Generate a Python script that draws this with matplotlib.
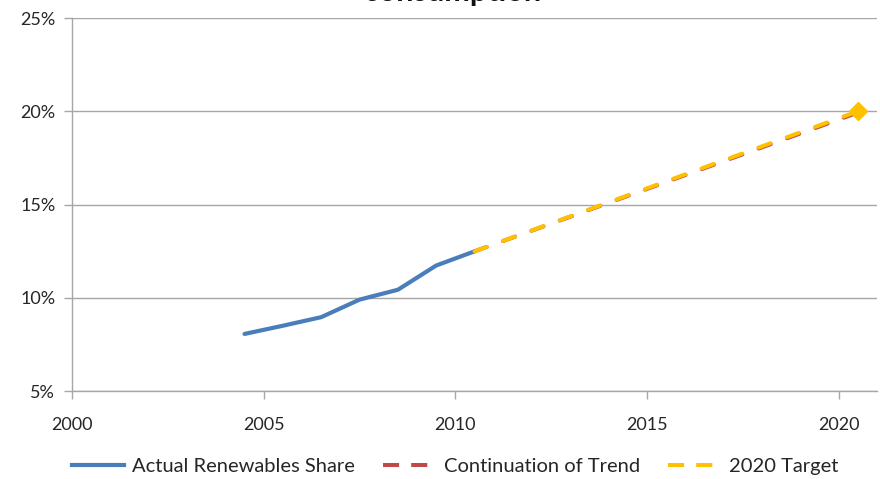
import matplotlib
matplotlib.use("Agg")
import matplotlib.pyplot as plt
from matplotlib.lines import Line2D

plt.rcParams['font.family'] = ['Lato', 'DejaVu Sans']

# renewables share of final consumption, percent
years = [2004, 2005, 2006, 2007, 2008, 2009, 2010]
actual_share = [8.06, 8.5, 8.96, 9.9, 10.43, 11.73, 12.49]

trend_years = [2010, 2020]
trend_share = [12.49, 19.93]

target_years = [2010, 2020]
target_share = [12.49, 20.0]

yticks = [5, 10, 15, 20, 25]
xticks = [2000, 2005, 2010, 2015, 2020]

BLUE = '#4a7ebb'
RED = '#be4b48'
YELLOW = '#ffc000'
GRID = '#a6a6a6'
DASH = (3.2, 4.3)

fig = plt.figure(figsize=(8.8, 4.79), dpi=100)
ax = fig.add_axes([0.0818, 0.1837, 0.915, 0.7787])

# points sit in the middle of each year
off = 0.5
ax.plot([y + off for y in years], actual_share, color=BLUE, lw=3.0,
        solid_capstyle='round', solid_joinstyle='round', zorder=3)
ax.plot([y + off for y in trend_years], trend_share, color=RED, lw=2.9,
        dashes=DASH, dash_capstyle='round', zorder=2)
ax.plot([y + off for y in target_years], target_share, color=YELLOW, lw=2.9,
        dashes=DASH, dash_capstyle='round', zorder=4)
ax.plot(target_years[-1] + off, target_share[-1], marker='D', ms=9,
        color=YELLOW, zorder=5)

ax.set_xlim(2000, 2021)
ax.set_ylim(5, 25)
ax.set_xticks(xticks)
ax.set_yticks(yticks)
ax.set_yticklabels([f'{v}%' for v in yticks])
ax.yaxis.grid(True, color=GRID, lw=1)
ax.set_axisbelow(True)

for side in ['top', 'right']:
    ax.spines[side].set_visible(False)
for side in ['left', 'bottom']:
    ax.spines[side].set_color(GRID)
    ax.spines[side].set_linewidth(1)
ax.tick_params(axis='both', colors=GRID, labelcolor='#262626',
               labelsize=13, length=6, width=1)
ax.tick_params(axis='x', pad=13)
ax.tick_params(axis='y', pad=6)

# second line of the title, mostly above the canvas
fig.text(0.514, 0.997, 'consumption', ha='center', va='baseline',
         fontsize=22, fontweight='bold', color='#111111')

handles = [
    Line2D([], [], color=BLUE, lw=3.0),
    Line2D([], [], color=RED, lw=2.9, dashes=(4, 3)),
    Line2D([], [], color=YELLOW, lw=2.9, dashes=(4, 3)),
]
labels = ['Actual Renewables Share', 'Continuation of Trend', '2020 Target']
fig.legend(handles, labels, loc='center', bbox_to_anchor=(0.517, 0.027),
           ncol=3, frameon=False, fontsize=14.5, handlelength=2.6,
           handletextpad=0.4, columnspacing=1.4, labelcolor='#262626')

fig.savefig('out.png', dpi=100)
